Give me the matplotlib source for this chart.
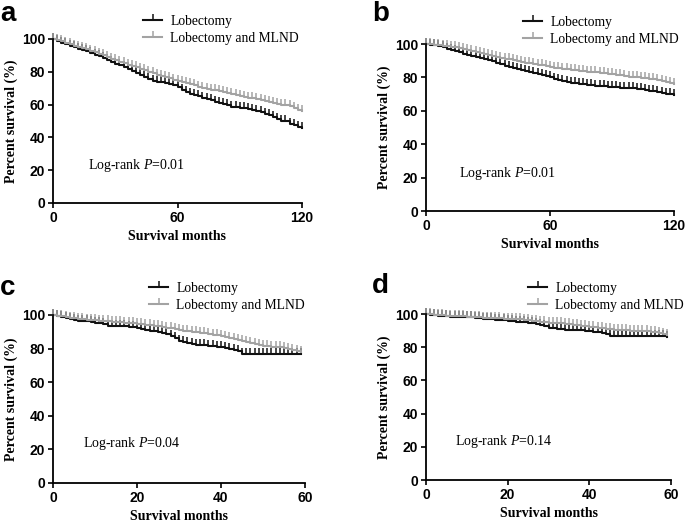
import matplotlib
matplotlib.use('Agg')
import matplotlib.pyplot as plt
from matplotlib.lines import Line2D
import numpy as np

plt.rcParams['font.family'] = ['Liberation Serif', 'DejaVu Serif']
plt.rcParams['mathtext.fontset'] = 'custom'
plt.rcParams['mathtext.rm'] = 'Liberation Serif'
plt.rcParams['mathtext.it'] = 'Liberation Serif:italic'

# 数据：各面板的时间点（月）和生存率（%）
MONTHS_AB = np.arange(0, 121, 2)
MONTHS_CD = np.arange(0, 60, 1)

A_LOBE = [100, 99.0, 97.8, 96.7, 96.0, 95.0, 94.0, 93.2, 92.4, 91.5, 90.5, 89.6, 88.5, 87.3, 86.0,
          85.0, 84.2, 83.0, 81.5, 80.3, 79.2, 78.0, 76.8, 75.6, 74.6, 74.0, 73.6, 73.0, 72.4, 71.8,
          71.0, 69.0, 67.5, 66.5, 65.6, 65.0, 64.3, 63.3, 62.5, 61.8, 61.0, 60.3, 59.6, 58.8, 58.4,
          58.2, 57.8, 57.5, 57.0, 56.0, 55.2, 54.3, 53.5, 52.5, 51.2, 50.3, 49.8, 48.0, 47.6, 46.6, 45.7]
A_MLND = [100, 99.3, 98.5, 97.6, 96.8, 96.0, 95.2, 94.5, 93.6, 92.7, 91.8, 90.9, 90.0, 89.0, 88.1,
          87.2, 86.2, 85.3, 84.4, 83.5, 82.7, 81.8, 80.9, 80.0, 79.1, 78.3, 77.5, 76.8, 76.0, 75.2,
          74.5, 73.8, 73.1, 72.4, 71.7, 71.0, 70.4, 69.8, 69.2, 68.6, 68.0, 67.5, 66.9, 66.3, 65.8,
          65.3, 64.8, 64.3, 63.8, 63.3, 62.8, 62.2, 61.7, 61.2, 60.6, 60.0, 59.5, 59.0, 58.2, 57.0, 55.9]

B_LOBE = [100, 99.6, 99.2, 98.8, 98.1, 97.3, 96.5, 95.8, 95.1, 94.3, 93.6, 92.9, 92.2, 91.5, 90.8,
          90.2, 89.6, 88.8, 87.8, 87.0, 86.3, 85.6, 85.0, 84.4, 83.8, 83.3, 82.8, 82.2, 81.6, 81.0,
          80.2, 79.2, 78.4, 77.9, 77.4, 76.9, 76.5, 76.2, 75.9, 75.6, 75.4, 75.1, 74.9, 74.7, 74.5,
          74.3, 74.1, 73.9, 73.8, 73.7, 73.6, 73.2, 72.8, 72.5, 72.1, 71.8, 71.4, 70.8, 70.3, 69.9, 69.6]
B_MLND = [100, 99.9, 99.7, 99.4, 99.1, 98.8, 98.5, 98.1, 97.6, 96.9, 96.3, 95.7, 95.1, 94.6, 94.0,
          93.4, 92.9, 92.4, 91.8, 91.3, 90.8, 90.3, 89.8, 89.3, 88.8, 88.4, 88.0, 87.6, 87.2, 86.7,
          86.3, 85.9, 85.6, 85.3, 85.0, 84.7, 84.4, 84.0, 83.8, 83.5, 83.2, 83.0, 82.7, 82.4, 82.1,
          81.8, 81.5, 81.2, 80.9, 80.5, 80.2, 80.0, 79.7, 79.5, 79.2, 79.0, 78.5, 78.0, 77.3, 76.7, 76.2]

C_LOBE = [100, 99.5, 99, 98, 97.5, 97, 96.4, 96.4, 96.4, 95.8, 95.4, 95, 94.6, 93.7, 93.7,
          93.7, 93.5, 93.3, 93, 93, 92, 91.5, 91, 90.6, 90.3, 90, 89.3, 88.7, 87.5, 86.2,
          84.5, 84, 83.5, 83, 82.2, 82, 82, 81.6, 81.3, 81, 81, 80.5, 79.8, 79.2, 78.4,
          76.8, 76.8, 76.8, 76.8, 76.8, 76.8, 76.8, 76.8, 76.8, 76.8, 76.8, 76.8, 76.8, 76.8, 76.8]
C_MLND = [100, 99.6, 99.2, 98.8, 98.4, 98.1, 97.8, 97.5, 97.3, 97, 96.8, 96.6, 96.4, 96.2, 96,
          95.8, 95.6, 95.4, 95.2, 95, 94.8, 94.5, 94.2, 93.9, 93.7, 93.5, 93, 92.5, 92, 91.5,
          91, 90.7, 90.4, 90.1, 89.8, 89.5, 89.1, 88.7, 88.3, 87.9, 87.5, 87, 86.4, 85.8, 85.2,
          84.6, 84, 83.4, 82.8, 82.2, 81.8, 81.5, 81.2, 81, 80.8, 80.5, 80, 79.3, 78.5, 78]

D_LOBE = [100, 99.5, 99.2, 99, 98.8, 98.6, 98.4, 98.2, 98.1, 98, 98, 98, 97.8, 97.5, 97.2,
          97, 96.8, 96.6, 96.4, 96.2, 96, 95.6, 95.3, 95, 95, 94.8, 94.5, 94, 93.6, 93,
          91.5, 91.3, 91, 90.8, 90.5, 90.4, 90.3, 90.2, 90.1, 90, 89.6, 89.2, 89, 88.6, 88,
          86.5, 86.5, 86.5, 86.5, 86.5, 86.5, 86.5, 86.5, 86.5, 86.5, 86.5, 86.5, 86.5, 86.5, 86]
D_MLND = [100, 99.8, 99.6, 99.4, 99.2, 99, 98.8, 98.7, 98.6, 98.5, 98.3, 98.2, 98.1, 98, 97.8,
          97.7, 97.6, 97.5, 97.3, 97.2, 97, 96.9, 96.8, 96.7, 96.5, 96.3, 96, 95.6, 95.2, 95,
          94.8, 94.6, 94.4, 94.3, 94.2, 94, 93.6, 93.2, 92.9, 92.6, 92.3, 92, 91.7, 91.4, 91.2,
          90.9, 90.6, 90.4, 90.2, 90.1, 90, 89.9, 89.8, 89.6, 89.5, 89.3, 89, 88.6, 88, 87.5]

LABELS = ['Lobectomy', 'Lobectomy and MLND']
PVALUES = ['0.01', '0.01', '0.04', '0.14']
PANEL_LETTERS = ['a', 'b', 'c', 'd']

BLACK = '#111111'
GRAY = '#a3a3a3'
W, H = 685, 522

# 面板布局（像素）：left, top, right, bottom
PANELS = [
    dict(box=(53, 39, 302, 203), t=MONTHS_AB, s=(A_LOBE, A_MLND), xmax=120, xt=[0, 60, 120],
         leg=(143, 15), ptxt=(88, 166), let=(0, 21)),
    dict(box=(426, 44, 674, 211), t=MONTHS_AB, s=(B_LOBE, B_MLND), xmax=120, xt=[0, 60, 120],
         leg=(523, 16), ptxt=(459, 173), let=(372, 21)),
    dict(box=(53, 315, 305, 483), t=MONTHS_CD, s=(C_LOBE, C_MLND), xmax=60, xt=[0, 20, 40, 60],
         leg=(149, 282), ptxt=(83, 444), let=(0, 295)),
    dict(box=(426, 314, 671, 480), t=MONTHS_CD, s=(D_LOBE, D_MLND), xmax=60, xt=[0, 20, 40, 60],
         leg=(528, 282), ptxt=(455, 442), let=(372, 293)),
]

fig = plt.figure(figsize=(W / 100, H / 100), dpi=100)

for i, p in enumerate(PANELS):
    l, t, r, b = p['box']
    ax = fig.add_axes([l / W, 1 - b / H, (r - l) / W, (b - t) / H])
    for vals, col in zip(p['s'], [BLACK, GRAY]):
        ax.plot(p['t'], vals, drawstyle='steps-post', color=col, lw=1.5,
                marker=2, markersize=4, mew=1.1, clip_on=False)
    ax.set_xlim(0, p['xmax'])
    ax.set_ylim(0, 100)
    ax.set_xticks(p['xt'])
    ax.set_yticks([0, 20, 40, 60, 80, 100])
    for side in ['top', 'right']:
        ax.spines[side].set_visible(False)
    for side in ['left', 'bottom']:
        ax.spines[side].set_linewidth(1.3)
    ax.tick_params(direction='out', length=3.5, width=1.2, pad=2)
    for lab in ax.get_xticklabels() + ax.get_yticklabels():
        lab.set_fontfamily('Liberation Sans')
        lab.set_fontweight('bold')
        lab.set_fontsize(10)
    ax.set_xlabel('Survival months', fontsize=10, fontweight='bold', labelpad=4)
    ax.set_ylabel('Percent survival (%)', fontsize=10, fontweight='bold', labelpad=3)

    lx, ly = p['ptxt']
    fig.text(lx / W, 1 - ly / H, 'Log-rank $\\mathit{P}$=' + PVALUES[i],
             fontsize=10, ha='left', va='center')

    handles = [Line2D([], [], color=c, lw=1.5, marker=2, markersize=4, mew=1.1)
               for c in [BLACK, GRAY]]
    gx, gy = p['leg']
    fig.legend(handles, LABELS, loc='upper left', bbox_to_anchor=(gx / W, 1 - gy / H),
               frameon=False, fontsize=9.8, handlelength=1.4, handletextpad=0.6,
               labelspacing=0.3, borderpad=0, borderaxespad=0, numpoints=1)

    ex, ey = p['let']
    fig.text(ex / W, 1 - ey / H, PANEL_LETTERS[i], fontsize=20, fontweight='bold',
             family='Liberation Sans', ha='left', va='baseline')

fig.savefig('out.png', dpi=100)
